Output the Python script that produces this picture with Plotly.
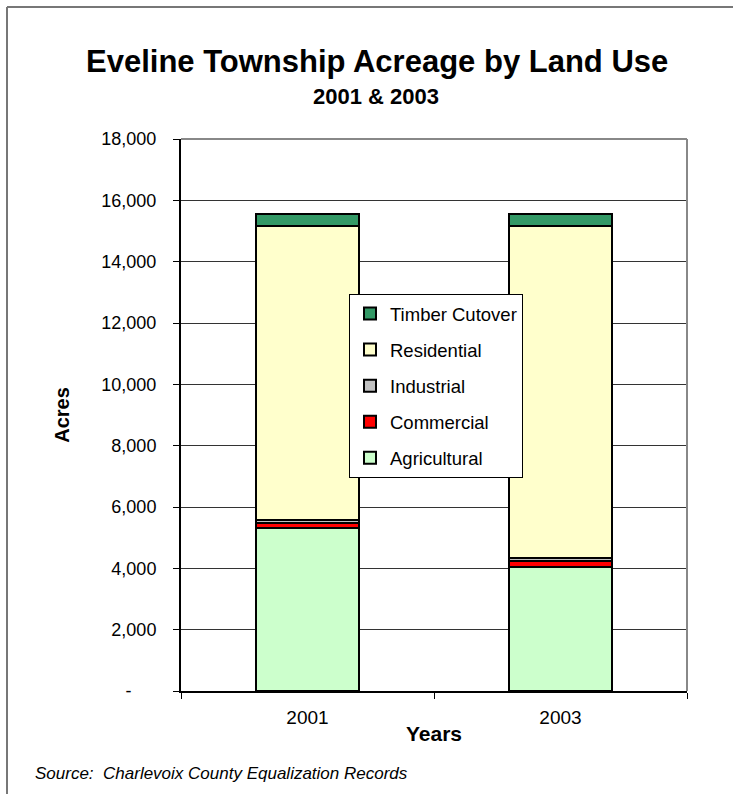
import plotly.graph_objects as go

years = ["2001", "2003"]
agricultural = [5300, 4050]
commercial = [180, 180]
industrial = [100, 110]
residential = [9570, 10810]
timber = [400, 400]

series = [
    ("Agricultural", agricultural, "#CCFFCC"),
    ("Commercial", commercial, "#FF0000"),
    ("Industrial", industrial, "#C0C0C0"),
    ("Residential", residential, "#FFFFCC"),
    ("Timber Cutover", timber, "#339966"),
]

ytick_vals = list(range(0, 18001, 2000))
ytick_text = ["-" + "\u00a0" * 5] + [f"{v:,}" for v in ytick_vals[1:]]

fig = go.Figure()
for i, (name, vals, color) in enumerate(series):
    fig.add_trace(go.Bar(
        x=years, y=vals, name=name, legendgroup=name,
        legendrank=1000 - i,
        marker=dict(color=color, line=dict(color="black", width=2)),
    ))

W, H = 733, 794
L, R, T, B = 181, 46, 139, 103

fig.update_layout(
    width=W, height=H,
    margin=dict(l=L, r=R, t=T, b=B),
    barmode="stack", bargap=0.59,
    paper_bgcolor="white", plot_bgcolor="white",
    font=dict(family="Arial, Liberation Sans, sans-serif", color="black", size=18),
    showlegend=True,
    legend=dict(
        x=(349 - L) / (W - L - R), y=(H - B - 294) / (H - T - B),
        xanchor="left", yanchor="top",
        bgcolor="white", bordercolor="black", borderwidth=1,
        font=dict(size=18.5), traceorder="grouped", tracegroupgap=9,
        itemwidth=30,
    ),
    xaxis=dict(
        showline=True, linecolor="black", linewidth=2,
        ticks="outside", ticklen=6, tickcolor="black",
        tickson="boundaries", tickfont=dict(size=19), ticklabelstandoff=8,
        title=dict(text="<b>Years</b>", font=dict(size=21), standoff=0),
    ),
    yaxis=dict(
        range=[0, 18000], tickvals=ytick_vals, ticktext=ytick_text,
        showline=True, linecolor="black", linewidth=2,
        ticks="outside", ticklen=6, tickcolor="black",
        showgrid=True, gridcolor="#333333", gridwidth=1,
        tickfont=dict(size=18), zeroline=False, ticklabelstandoff=13,
        title=dict(text="<b>Acres</b>", font=dict(size=20), standoff=26),
    ),
    annotations=[
        dict(text="<b>Eveline Township Acreage by Land Use</b>", xref="paper", yref="paper",
             x=(377 - L) / (W - L - R), y=1 + (139 - 61) / (H - T - B), showarrow=False,
             font=dict(size=31), xanchor="center", yanchor="middle"),
        dict(text="<b>2001 &amp; 2003</b>", xref="paper", yref="paper",
             x=(376 - L) / (W - L - R), y=1 + (139 - 97) / (H - T - B), showarrow=False,
             font=dict(size=22), xanchor="center", yanchor="middle"),
        dict(text="<i>Source:  Charlevoix County Equalization Records</i>", xref="paper", yref="paper",
             x=(33 - L) / (W - L - R), y=-(773 - (H - B)) / (H - T - B), showarrow=False,
             font=dict(size=17), xanchor="left", yanchor="middle"),
    ],
    shapes=[
        dict(type="line", xref="paper", yref="paper",
             x0=0, x1=1, y0=1, y1=1, line=dict(color="#888888", width=2)),
        dict(type="line", xref="paper", yref="paper",
             x0=1, x1=1, y0=0, y1=1, line=dict(color="#888888", width=2)),
        dict(type="line", xref="paper", yref="paper",
             x0=(7 - L) / (W - L - R), x1=(W + 5 - L) / (W - L - R),
             y0=1 + (139 - 7) / (H - T - B), y1=1 + (139 - 7) / (H - T - B),
             line=dict(color="#777777", width=2)),
        dict(type="line", xref="paper", yref="paper",
             x0=(7 - L) / (W - L - R), x1=(7 - L) / (W - L - R),
             y0=1 + (139 - 7) / (H - T - B), y1=-(H + 5 - (H - B)) / (H - T - B),
             line=dict(color="#777777", width=2)),
    ],
)

fig.write_html("out.html")
